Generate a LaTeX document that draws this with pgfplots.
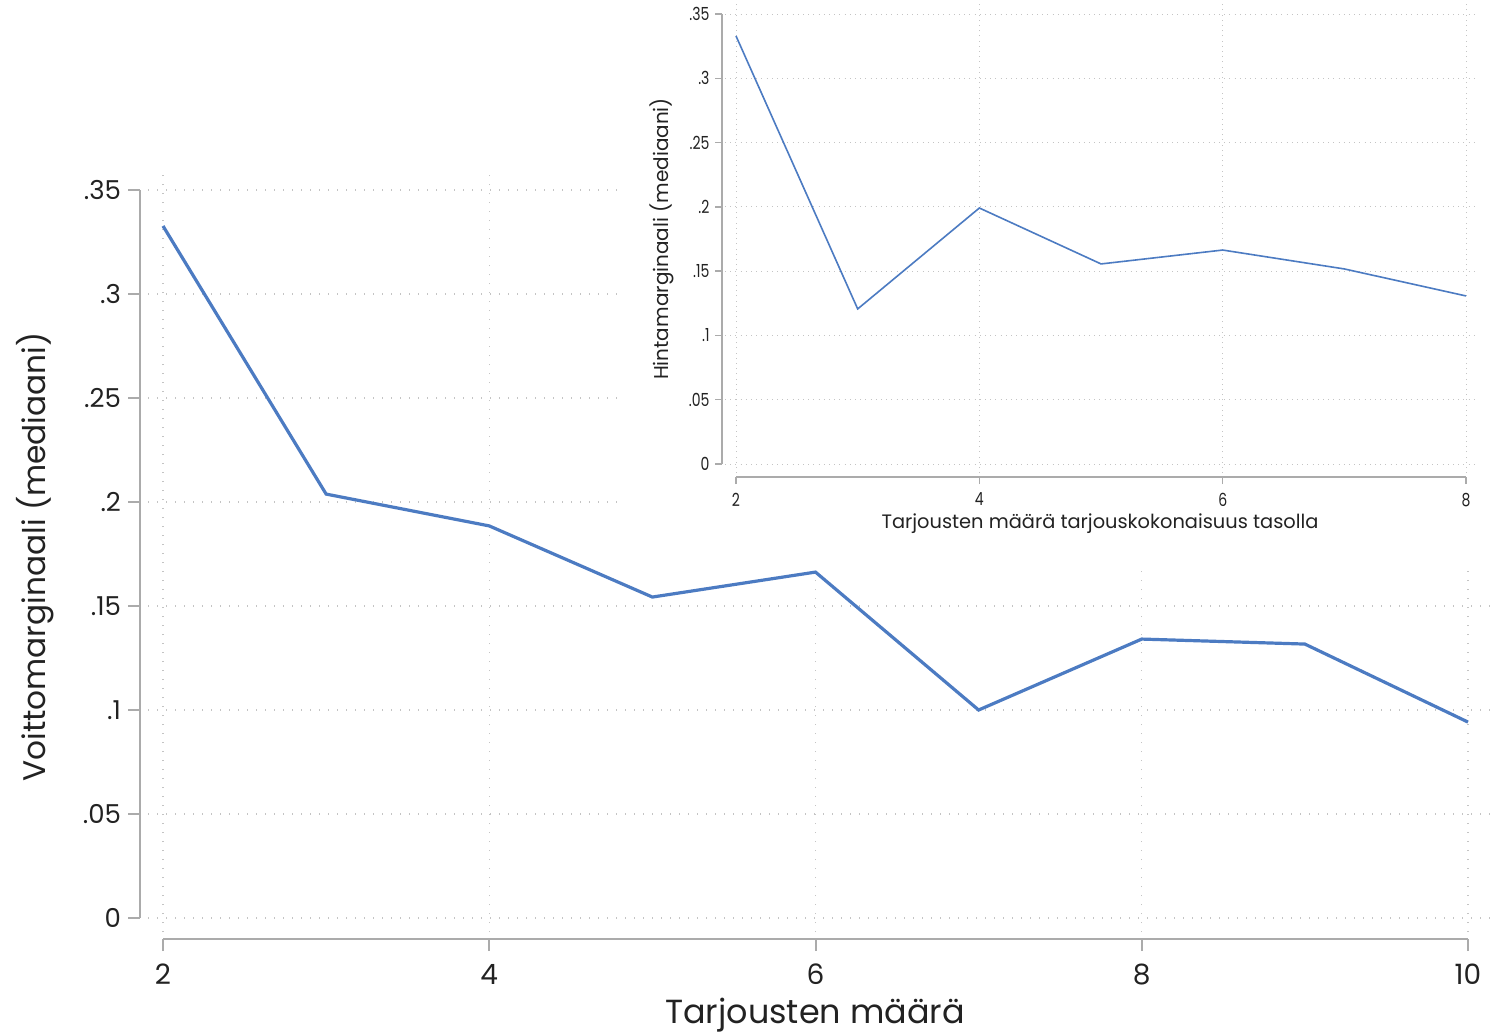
\documentclass[border=0pt]{standalone}
\usepackage{fontspec}
\setmainfont{Poppins}
\usepackage{pgfplots}
\pgfplotsset{compat=1.18}
\definecolor{lineblue}{HTML}{4C7BC2}
\definecolor{axgray}{HTML}{ABABAB}
\definecolor{gridgray}{HTML}{C4C4C4}
\definecolor{txt}{HTML}{222222}
\begin{document}
\begin{tikzpicture}
\path[use as bounding box] (0,0) rectangle (752pt,-517.5pt);
\begin{axis}[
  at={(74pt,-466pt)}, anchor=south west,
  scale only axis, width=671pt, height=381pt,
  xmin=1.908, xmax=10.135, ymin=-0.00673, ymax=0.3596,
  axis lines=left, axis x line shift=3.5pt, axis y line shift=4pt,
  axis line style={draw=none,-},
  xtick={2,4,6,8,10}, ytick={0,0.05,0.1,0.15,0.2,0.25,0.3,0.35},
  yticklabels={0,.05,.1,.15,.2,.25,.3,.35},
  xticklabels={2,4,6,8,10},
  tick align=outside, major tick length=6pt,
  every tick/.style={axgray, line width=1pt},
  grid=major,
  major grid style={gridgray, line width=0.6pt, dash pattern=on 0.6pt off 3.9pt},
  xticklabel style={font=\fontsize{14}{16}\selectfont, text=txt, yshift=-3pt},
  yticklabel style={font=\fontsize{13}{15}\selectfont, text=txt},
  clip=false,
]
\addplot[lineblue, line width=1.6pt] coordinates {
(2,0.3327) (3,0.2038) (4,0.1885) (5,0.1543) (6,0.1663) (7,0.1000) (8,0.1341) (9,0.1317) (10,0.0942)};
\end{axis}
% main axis lines (Stata style, offset)
\draw[axgray, line width=1pt] (70pt,-95pt) -- (70pt,-459pt);
\draw[axgray, line width=1pt] (81.5pt,-469.5pt) -- (734pt,-469.5pt);
% white background of the inset
\fill[white] (310pt,0pt) rectangle (752pt,-282.5pt);
\begin{axis}[
  at={(362.5pt,-236.5pt)}, anchor=south west,
  scale only axis, width=376.5pt, height=235.5pt,
  xmin=1.9096, xmax=8.098, ymin=-0.0070, ymax=0.3593,
  axis lines=left, axis x line shift=2pt, axis y line shift=1.5pt,
  axis line style={draw=none,-},
  xtick={2,4,6,8}, ytick={0,0.05,0.1,0.15,0.2,0.25,0.3,0.35},
  yticklabels={0,.05,.1,.15,.2,.25,.3,.35},
  xticklabels={2,4,6,8},
  tick align=outside, major tick length=3.5pt,
  every tick/.style={axgray, line width=0.7pt},
  grid=major,
  major grid style={gridgray, line width=0.4pt, dash pattern=on 0.4pt off 2.2pt},
  ticklabel style={font=\fontsize{9}{11}\selectfont, text=txt, xscale=0.78},
  xticklabel style={yshift=-1pt},
  clip=false,
]
\addplot[lineblue, line width=0.8pt] coordinates {
(2,0.3329) (3,0.1206) (4,0.1991) (5,0.1556) (6,0.1664) (7,0.1517) (8,0.1307)};
\end{axis}
\draw[axgray, line width=0.7pt] (361pt,-7pt) -- (361pt,-232pt);
\draw[axgray, line width=0.7pt] (368pt,-238.5pt) -- (733pt,-238.5pt);
% labels
\node[text=txt, font=\fontsize{16.7}{20}\selectfont] at (407.5pt,-507.5pt) {Tarjousten määrä};
\node[text=txt, font=\fontsize{15.6}{19}\selectfont, rotate=90] at (17.5pt,-278.5pt) {Voittomarginaali (mediaani)};
\node[text=txt, font=\fontsize{9.7}{12}\selectfont] at (550pt,-262pt) {Tarjousten määrä tarjouskokonaisuus tasolla};
\node[text=txt, font=\fontsize{10}{12}\selectfont, rotate=90] at (331pt,-119.5pt) {Hintamarginaali (mediaani)};
\end{tikzpicture}
\end{document}
